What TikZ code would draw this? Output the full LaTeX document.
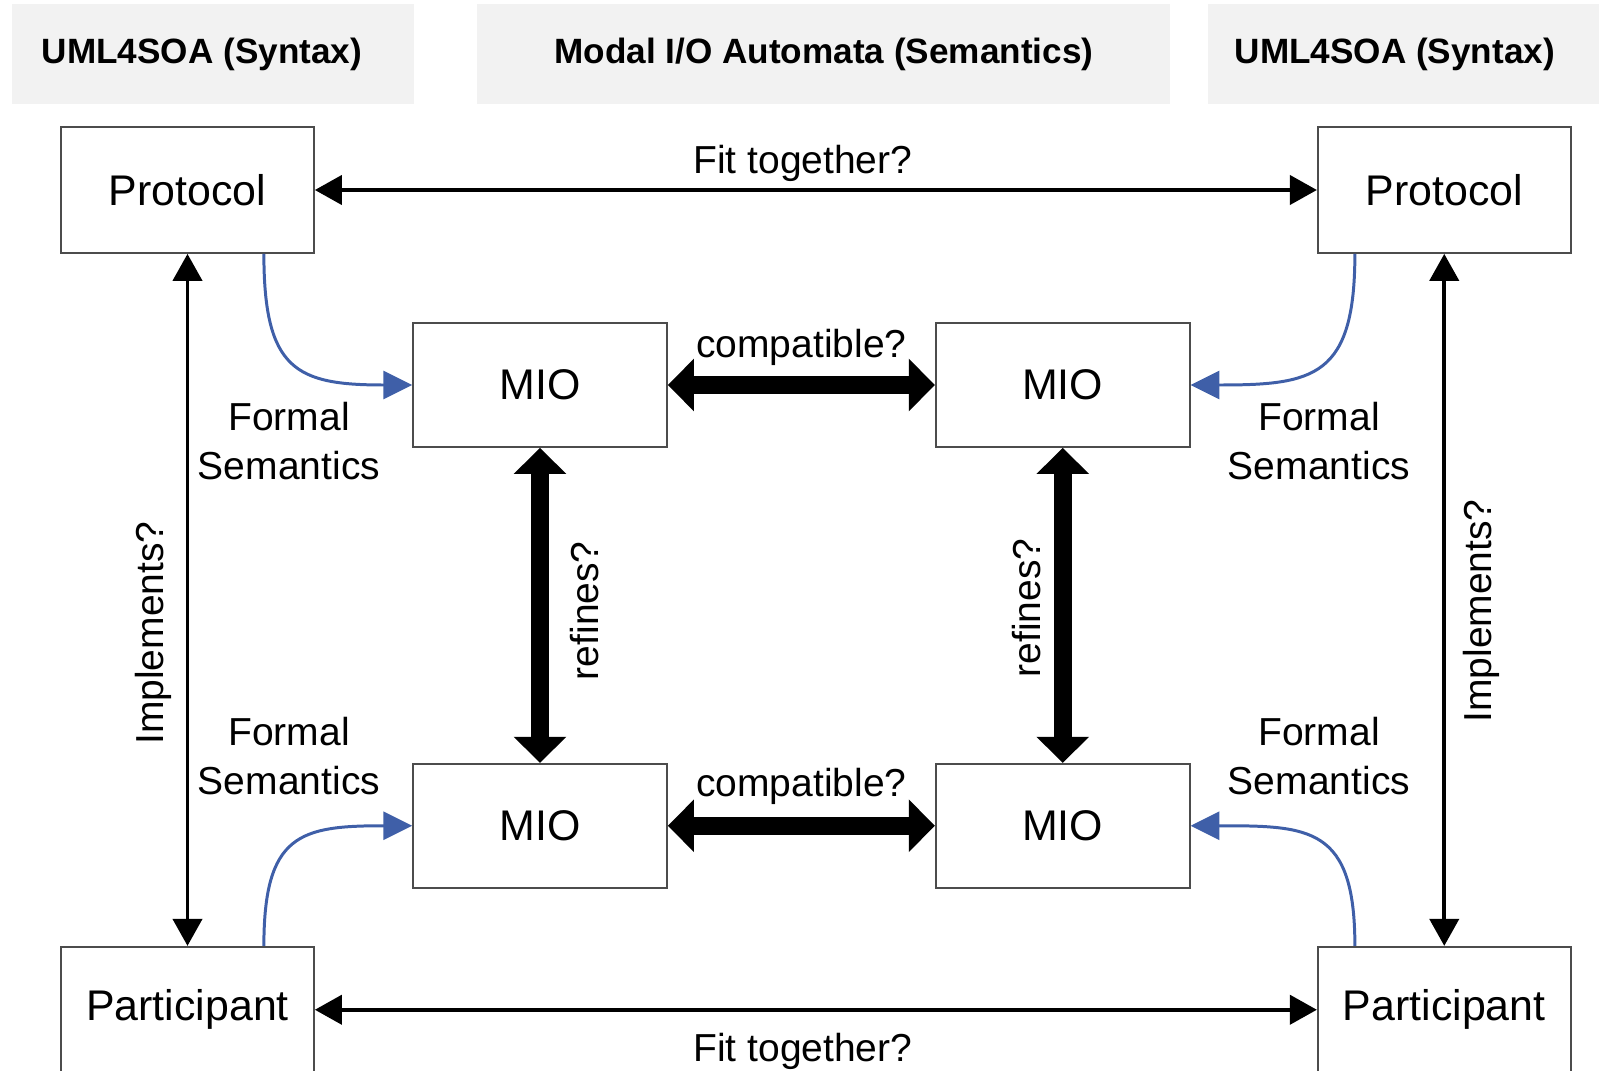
\documentclass[tikz,border=0pt]{standalone}
\usepackage{fontspec}
\setmainfont{Liberation Sans}
\usepackage{tikz}
\usetikzlibrary{arrows.meta, positioning}

\definecolor{headgray}{HTML}{F2F2F2}
\definecolor{semblue}{HTML}{3F5FA8}

\begin{document}
\begin{tikzpicture}[
  head/.style={fill=headgray, minimum height=1cm, inner sep=0pt, font=\fontsize{10pt}{12pt}\selectfont\bfseries},
  box/.style={draw=black!70, line width=0.5pt, minimum width=2.53cm, minimum height=1.26cm, inner sep=0pt, font=\fontsize{12.2pt}{14pt}\selectfont},
  mio/.style={box, minimum width=2.54cm, minimum height=1.24cm},
  lbl/.style={font=\fontsize{11.1pt}{13.7pt}\selectfont, align=center, inner sep=0pt},
  fitarrow/.style={{Triangle[length=7.7pt,width=8.3pt]}-{Triangle[length=7.7pt,width=8.3pt]}, line width=1.1pt},
  bigarrow/.style={{Triangle[length=7.4pt,width=14.5pt]}-{Triangle[length=7.4pt,width=14.5pt]}, line width=5.1pt},
  semarrow/.style={-{Triangle[length=8.2pt,width=8pt]}, line width=0.85pt, draw=semblue}
]
\useasboundingbox (0,0) rectangle (15.99,-10.71);

% column headers
\node[head, minimum width=4.02cm] (hleft) at (2.13,-0.54) {\hspace*{-0.22cm}UML4SOA (Syntax)};
\node[head, minimum width=6.93cm, right=0.62cm of hleft] (hmid) {Modal I/O Automata (Semantics)};
\node[head, minimum width=3.94cm, right=0.36cm of hmid] (hright) {\hspace*{-0.2cm}UML4SOA (Syntax)};

% syntax side
\node[box] (protL) at (1.875,-1.90) {Protocol};
\node[box, right=10.02cm of protL] (protR) {Protocol};
\node[box, below=6.92cm of protL] (partL) {Participant};
\node[box, right=10.02cm of partL] (partR) {Participant};

% semantics side
\node[mio] (mioTL) at (5.40,-3.85) {MIO};
\node[mio, right=2.67cm of mioTL] (mioTR) {MIO};
\node[mio, below=3.15cm of mioTL] (mioBL) {MIO};
\node[mio, right=2.67cm of mioBL] (mioBR) {MIO};

\node[lbl] (fsTL) at (2.89,-4.41) {Formal\\Semantics};
\node[lbl] (fsBL) at (2.89,-7.56) {Formal\\Semantics};
\node[lbl] (fsTR) at (13.19,-4.41) {Formal\\Semantics};
\node[lbl] (fsBR) at (13.19,-7.56) {Formal\\Semantics};

\draw[fitarrow] (protL) -- node[lbl, xshift=-0.13cm, yshift=0.27cm] {Fit together?} (protR);
\draw[fitarrow] (partL) -- node[lbl, xshift=-0.13cm, yshift=-0.42cm] {Fit together?} (partR);
\draw[fitarrow] (protL) -- node[lbl, pos=0.548, xshift=-0.34cm, rotate=90] {Implements?} (partL);
\draw[fitarrow] (protR) -- node[lbl, pos=0.516, xshift=0.37cm, rotate=90] {Implements?} (partR);

\draw[bigarrow] (mioTL) -- node[lbl, yshift=0.38cm] {compatible?} (mioTR);
\draw[bigarrow] (mioBL) -- node[lbl, yshift=0.39cm] {compatible?} (mioBR);
\draw[bigarrow] (mioTL) -- node[lbl, pos=0.517, xshift=0.45cm, rotate=90] {refines?} (mioBL);
\draw[bigarrow] (mioTR) -- node[lbl, pos=0.508, xshift=-0.36cm, rotate=90] {refines?} (mioBR);

\draw[semarrow] ([xshift=-0.51cm]protL.south east) to[out=-90, in=180, looseness=1.5] (mioTL.west);
\draw[semarrow] ([xshift=0.38cm]protR.south west) to[out=-90, in=0, looseness=1.5] (mioTR.east);
\draw[semarrow] ([xshift=-0.51cm]partL.north east) to[out=90, in=180, looseness=1.5] (mioBL.west);
\draw[semarrow] ([xshift=0.38cm]partR.north west) to[out=90, in=0, looseness=1.5] (mioBR.east);

\end{tikzpicture}
\end{document}
